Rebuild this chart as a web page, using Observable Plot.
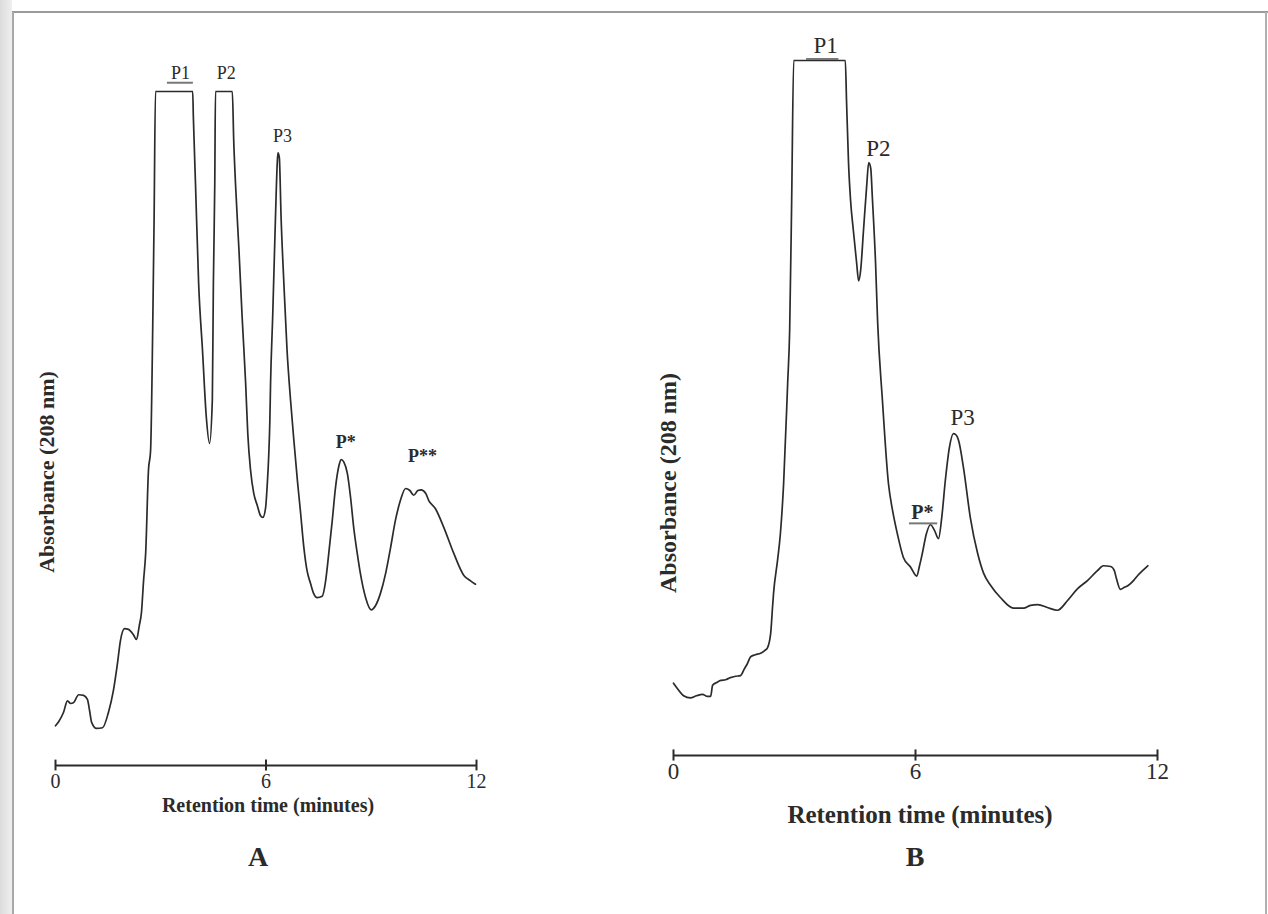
<!DOCTYPE html>
<html>
<head>
<meta charset="utf-8">
<script src="https://cdn.jsdelivr.net/npm/d3@7"></script>
<script src="https://cdn.jsdelivr.net/npm/@observablehq/plot@0.6"></script>
<style>
  body { margin: 0; background: #fff; }
  #page { position: relative; width: 1268px; height: 914px; overflow: hidden; background: #fff;
          font-family: "Liberation Serif", "Times New Roman", serif; color: #2b2b2b; }
  .pos { position: absolute; white-space: nowrap; }
  .ttl { font-weight: bold; transform: translate(-50%, -50%); }
  .ytl { font-weight: bold; transform: translate(-50%, -50%) rotate(-90deg); }
  .svgA, .svgB { position: absolute; top: 0; }
  .svgA { left: 0; }
  .svgB { left: 600px; }
  .frame-top { position: absolute; left: 12px; top: 11px; width: 1256px; height: 2px; background: #9a9a9a; }
  .frame-left { position: absolute; left: 12px; top: 12px; width: 2px; height: 902px; background: #a8a8a8; }
  .frame-right { position: absolute; left: 1265px; top: 12px; width: 2px; height: 902px; background: #b0b0b0; }
  .edge { position: absolute; left: 0; top: 0; width: 12px; height: 914px; background: linear-gradient(to right, #dcdcdc, #efefef); }
</style>
</head>
<body>
<div id="page">
  <div class="edge"></div>
  <div class="frame-top"></div>
  <div class="frame-left"></div>
  <div class="frame-right"></div>
</div>
<script>
// ---------- Panel A data: retention time (min) and relative absorbance (100 = off-scale) ----------
const timeA = [0.00,0.09,0.23,0.34,0.43,0.51,0.66,0.80,0.91,0.97,1.03,1.17,1.34,1.51,1.65,1.77,1.85,1.97,2.08,2.22,
  2.31,2.39,2.45,2.51,2.57,2.65,2.71,2.77,2.81,2.85,3.91,3.93,3.99,4.08,4.19,4.30,4.39,4.47,4.50,4.54,
  4.56,5.04,5.08,5.13,5.23,5.32,5.42,5.48,5.56,5.65,5.75,5.84,5.91,5.99,6.03,6.08,6.11,6.13,6.19,6.27,
  6.32,6.34,6.38,6.43,6.51,6.60,6.70,6.80,6.90,6.98,7.08,7.17,7.27,7.36,7.46,7.60,7.70,7.79,7.89,7.98,
  8.08,8.14,8.22,8.32,8.41,8.50,8.60,8.69,8.84,9.00,9.12,9.26,9.41,9.55,9.69,9.83,9.98,10.10,10.21,10.33,
  10.42,10.55,10.64,10.83,11.07,11.35,11.64,11.83,11.97];
const absA = [5.9,6.5,7.9,9.6,9.2,9.3,10.5,10.4,9.8,8.2,6.4,5.5,5.6,7.9,11.1,15.3,18.5,20.3,20.2,19.4,
  18.7,20.8,22.7,27.4,31.5,43.8,46.7,64.5,80.9,100,100,96.1,86.4,71.5,61.6,51.6,47.8,54.2,71.5,86.4,
  100,100,92.7,86.4,76.4,66.5,56.7,49.3,43.8,40.4,38.6,37.1,36.8,38.3,41.2,46.3,51.2,56.7,66.5,81.3,
  89.3,90.9,90.2,81.3,71.5,61.6,54.2,47.9,42.0,37.8,32.3,28.9,27.0,25.5,24.9,25.1,27.4,31.5,36.4,41.2,
  44.5,45.4,45.0,43.3,39.8,35.3,31.5,28.5,24.9,23.1,23.7,25.5,28.5,32.3,36.4,39.3,41.1,40.8,40.1,40.8,
  40.9,40.4,39.3,38.1,35.3,31.5,28.2,27.4,26.9];

// ---------- Panel B data ----------
const timeB = [0.00,0.10,0.25,0.42,0.57,0.72,0.84,0.92,0.97,1.07,1.17,1.29,1.41,1.54,1.66,1.76,1.83,1.91,2.03,2.16,
  2.26,2.33,2.41,2.45,2.48,2.58,2.65,2.73,2.83,2.88,2.93,2.98,4.26,4.29,4.34,4.39,4.46,4.54,4.59,4.64,
  4.71,4.79,4.84,4.89,4.93,5.01,5.06,5.18,5.33,5.43,5.55,5.70,5.88,6.03,6.10,6.17,6.27,6.37,6.47,6.57,
  6.65,6.74,6.84,6.94,6.99,7.07,7.19,7.36,7.54,7.69,7.86,8.11,8.43,8.68,8.85,9.03,9.27,9.52,9.77,10.02,
  10.27,10.51,10.66,10.84,10.93,10.98,11.08,11.18,11.28,11.41,11.51,11.63,11.76];
const absB = [10.4,9.6,8.6,8.3,8.6,8.8,8.5,8.5,10.1,10.5,10.8,10.9,11.2,11.4,11.5,12.5,13.2,14.2,14.5,14.7,
  15.1,15.5,17.6,20.9,23.3,28.1,31.9,39.1,53.5,61.2,79.9,100,100,94.2,85.2,79.9,75.5,70.9,68.3,69.8,
  75.5,82.0,85.3,84.5,80.3,70.8,62.5,51.1,39.1,35.3,31.9,28.5,27.1,25.8,27.3,29.1,31.9,33.2,32.4,31.2,
  34.2,39.6,44.3,46.3,46.2,45.3,41.4,34.2,29.1,26.2,24.5,22.7,21.2,21.2,21.6,21.7,21.3,20.9,22.3,24.0,
  25.2,26.6,27.3,27.2,26.6,25.5,23.9,24.2,24.5,25.2,25.9,26.6,27.3];

// ---------- Axis ticks ----------
const ticks = [0, 6, 12];

// ---------- Peak labels (time, absorbance in data units) ----------
const labelsA = ["P1", "P2", "P3", "P*", "P**"];
const labelTimeA = [3.56, 4.87, 6.47, 8.27, 10.46];
const labelAbsA = [102.7, 102.7, 93.3, 48.0, 45.9];
const labelBoldA = [false, false, false, true, true];

const labelsB = ["P1", "P2", "P3", "P*"];
const labelTimeB = [3.77, 5.08, 7.17, 6.17];
const labelAbsB = [102.2, 87.3, 48.6, 35.0];
const labelBoldB = [false, false, false, true];

// underlines beneath some labels (start time, end time, absorbance)
const underlineA = [{t1: 3.19, t2: 3.93, v: 101.3}];
const underlineB = [{t1: 3.30, t2: 4.10, v: 100.2}, {t1: 5.85, t2: 6.55, v: 33.4}];

const ink = "#2b2b2b";
const serif = "'Liberation Serif', 'Times New Roman', serif";

function panel(time, abs, labels, lt, la, lb, underlines, cfg) {
  const data = time.map((t, i) => ({t, v: abs[i]}));
  const lab = labels.map((s, i) => ({s, t: lt[i], v: la[i], bold: lb[i]}));
  return Plot.plot({
    width: cfg.width, height: cfg.height,
    marginLeft: cfg.ml, marginRight: cfg.mr, marginTop: cfg.mt, marginBottom: cfg.mb,
    x: {domain: [0, 12]},
    y: {domain: [0, 100], axis: null},
    style: {fontFamily: serif, background: "transparent", overflow: "visible", color: ink},
    marks: [
      Plot.ruleY([0], {stroke: ink, strokeWidth: 2.2}),
      Plot.ruleX(ticks, {y1: -cfg.tk, y2: cfg.tk, stroke: ink, strokeWidth: 2}),
      Plot.axisX(ticks, {tickSize: 0, tickPadding: cfg.tp, fontSize: cfg.tickFont, label: null, fill: ink}),
      Plot.line(data, {x: "t", y: "v", stroke: ink, strokeWidth: 1.7, strokeLinejoin: "round", curve: "monotone-x"}),
      Plot.ruleY(underlines, {y: "v", x1: "t1", x2: "t2", stroke: "#777", strokeWidth: 2}),
      Plot.text(lab.filter(d => !d.bold), {x: "t", y: "v", text: "s", fontSize: cfg.labFont, fill: ink, lineAnchor: "middle"}),
      Plot.text(lab.filter(d => d.bold), {x: "t", y: "v", text: "s", fontSize: cfg.starFont, fontWeight: "bold", fill: ink, lineAnchor: "middle"})
    ]
  });
}

const page = document.getElementById("page");

const svgA = panel(timeA, absA, labelsA, labelTimeA, labelAbsA, labelBoldA, underlineA,
  {width: 560, height: 840, ml: 55, mr: 84, mt: 91, mb: 75, tk: 0.8, tp: 8, tickFont: 20, labFont: 18, starFont: 18});
svgA.classList.add("svgA");
page.appendChild(svgA);

const svgB = panel(timeB, absB, labelsB, labelTimeB, labelAbsB, labelBoldB, underlineB,
  {width: 668, height: 840, ml: 73, mr: 111, mt: 60, mb: 85, tk: 0.8, tp: 7, tickFont: 23, labFont: 23, starFont: 20});
svgB.classList.add("svgB");
page.appendChild(svgB);

// ---------- Axis titles and panel captions ----------
const texts = [
  {txt: "Retention time (minutes)", cls: "ttl", x: 268, y: 805, size: 20},
  {txt: "Absorbance (208 nm)", cls: "ytl", x: 47, y: 472, size: 22},
  {txt: "Retention time (minutes)", cls: "ttl", x: 920, y: 815, size: 25},
  {txt: "Absorbance (208 nm)", cls: "ytl", x: 668, y: 483, size: 24},
  {txt: "A", cls: "ttl", x: 258, y: 857, size: 28},
  {txt: "B", cls: "ttl", x: 915, y: 857, size: 28}
];
for (const d of texts) {
  const el = document.createElement("div");
  el.className = "pos " + d.cls;
  el.style.left = d.x + "px";
  el.style.top = d.y + "px";
  el.style.fontSize = d.size + "px";
  el.textContent = d.txt;
  page.appendChild(el);
}
</script>
</body>
</html>
